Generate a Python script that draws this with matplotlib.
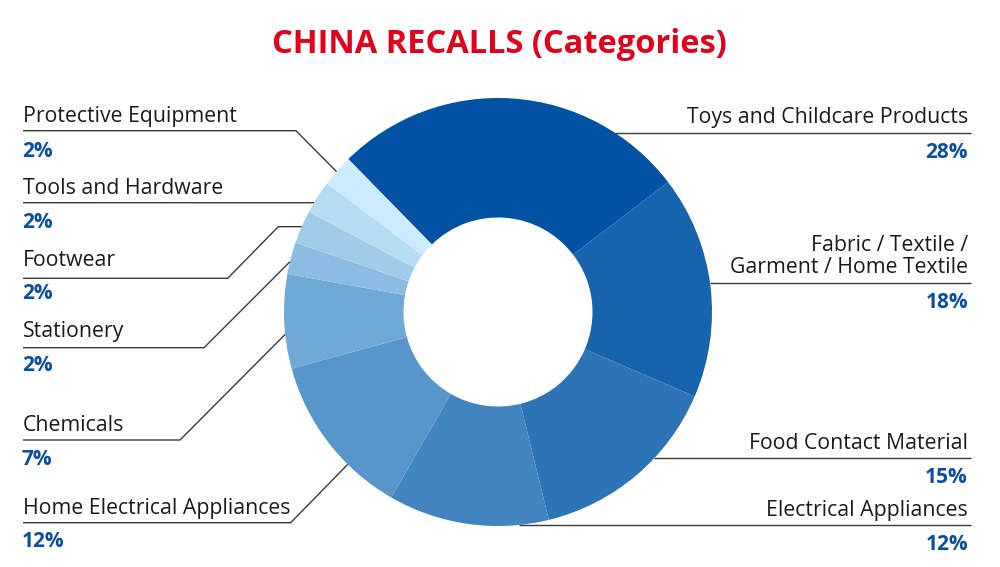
import numpy as np
import matplotlib
matplotlib.use("Agg")
import matplotlib.pyplot as plt

# ---- data ----
categories = ["Toys and Childcare Products",
              "Fabric / Textile /\nGarment / Home Textile",
              "Food Contact Material",
              "Electrical Appliances",
              "Home Electrical Appliances",
              "Chemicals",
              "Stationery",
              "Footwear",
              "Tools and Hardware",
              "Protective Equipment"]
# slice sizes as drawn in the picture (share of the ring, %)
shares = [26.9, 16.8, 14.7, 12.1, 12.4, 7.1, 2.4, 2.5, 2.5, 2.4]
# percentages printed next to the labels
pct_labels = ["28%", "18%", "15%", "12%", "12%", "7%", "2%", "2%", "2%", "2%"]
colors = ["#0152A3", "#1763AE", "#2D74B7", "#4284C0", "#5795CB",
          "#70A8D6", "#8BBCE2", "#A0CCEA", "#B5DCF1", "#CCEBFB"]

title = "CHINA RECALLS (Categories)"

# ---- layout (pixel space, y measured from top) ----
W, H = 1000, 567
CX, CY, R, RIN = 498, 312, 214, 94.5
FONT = ["Open Sans", "DejaVu Sans"]
LINE_C = "#3a3a3a"
BLUE = "#0B4FA0"

fig = plt.figure(figsize=(W / 100, H / 100), dpi=100)
ax = fig.add_axes([0, 0, 1, 1])


def Y(y):
    return H - y


ax.pie(shares, colors=colors, startangle=134.4, counterclock=False,
       radius=R, center=(CX, Y(CY)),
       wedgeprops=dict(width=R - RIN, edgecolor="none", linewidth=0))
ax.set_xlim(0, W)
ax.set_ylim(0, H)
ax.set_aspect("equal")
ax.axis("off")


def edge_pt(angle_deg):
    a = np.deg2rad(angle_deg)
    return CX + R * np.cos(a), CY - R * np.sin(a)


layout = {
    "Toys and Childcare Products": dict(side="R", tb=123.3, pb=158.3, ang=56.9),
    "Fabric / Textile /\nGarment / Home Textile": dict(side="R", tb=273.3, pb=307.7, ang=7.8),
    "Food Contact Material": dict(side="R", tb=449, pb=483.3, ang=-43.2),
    "Electrical Appliances": dict(side="R", tb=516, pb=550, ang=-84.4),
    "Home Electrical Appliances": dict(side="L", tb=514, pb=547.3, uy=522.7, ex=290.7, ang=225.4),
    "Chemicals": dict(side="L", tb=430.7, pb=465, uy=440, ex=180, ang=186),
    "Stationery": dict(side="L", tb=337.3, pb=371, uy=347.7, ex=204, ang=166.4),
    "Footwear": dict(side="L", tb=265.7, pb=299, uy=278.3, ex=227.7, kx=278.3, ang=156.5),
    "Tools and Hardware": dict(side="L", tb=194.3, pb=227.7, uy=202.7, ex=None, ang=149.3),
    "Protective Equipment": dict(side="L", tb=122.3, pb=156.7, uy=130.7, ex=296, ang=139),
}

FS = 15.3
PFS = 15
for cat, pct in zip(categories, pct_labels):
    L = layout[cat]
    axp, ayp = edge_pt(L["ang"])
    if L["side"] == "R":
        xs = [axp, 971]
        ys = [ayp, ayp]
        ax.plot(xs, [Y(v) for v in ys], color=LINE_C, lw=1.0, solid_capstyle="butt")
        lines = cat.split("\n")
        for i, ln in enumerate(reversed(lines)):
            ax.text(968, Y(L["tb"] - i * 22.3), ln, ha="right", va="baseline",
                    fontsize=FS, family=FONT, color="#1a1a1a")
        ax.text(968, Y(L["pb"]), pct, ha="right", va="baseline",
                fontsize=PFS, family=FONT, fontweight="bold", color=BLUE)
    else:
        uy = L["uy"]
        if L.get("ex") is None:
            xs = [23, axp]
            ys = [uy, ayp]
        elif L.get("kx") is not None:
            xs = [23, L["ex"], L["kx"], axp]
            ys = [uy, uy, ayp, ayp]
        else:
            xs = [23, L["ex"], axp]
            ys = [uy, uy, ayp]
        ax.plot(xs, [Y(v) for v in ys], color=LINE_C, lw=1.0,
                solid_joinstyle="miter", solid_capstyle="butt")
        ax.text(23, Y(L["tb"]), cat, ha="left", va="baseline",
                fontsize=FS, family=FONT, color="#1a1a1a")
        ax.text(22, Y(L["pb"]), pct, ha="left", va="baseline",
                fontsize=PFS, family=FONT, fontweight="bold", color=BLUE)

ax.text(499.5, Y(52.7), title, ha="center", va="baseline",
        fontsize=23.5, family=FONT, fontweight="bold", color="#E2001A")

fig.savefig("out.png", dpi=100)
